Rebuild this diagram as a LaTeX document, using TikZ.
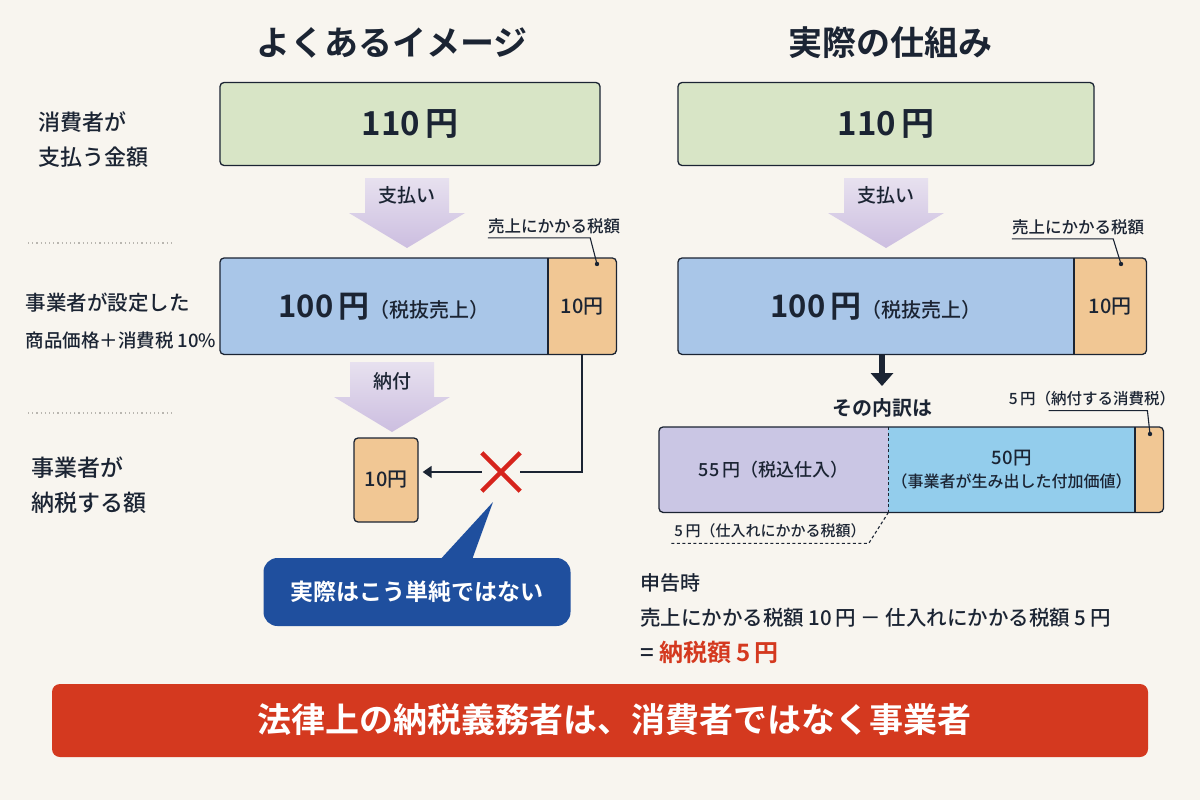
\documentclass[tikz,border=0pt]{standalone}
\usepackage{fontspec}
\setmainfont{Noto Sans CJK JP}[UprightFont=* Medium,BoldFont=* Bold]
\usetikzlibrary{positioning,arrows.meta}

\definecolor{bg}{HTML}{F8F5EF}
\definecolor{ink}{HTML}{1B2433}
\definecolor{paygreen}{HTML}{D8E5C6}
\definecolor{netblue}{HTML}{A9C6E8}
\definecolor{taxorange}{HTML}{F1C794}
\definecolor{inpurple}{HTML}{CAC6E4}
\definecolor{addsky}{HTML}{93CDEC}
\definecolor{arrtop}{HTML}{E7E1EF}
\definecolor{arrbot}{HTML}{CCBEE0}
\definecolor{navy}{HTML}{1F4F9E}
\definecolor{alertred}{HTML}{D4391F}
\definecolor{crossred}{HTML}{D6241C}
\definecolor{sepgray}{HTML}{B9B6B0}

\newcommand{\fsz}[1]{\fontsize{#1}{#1}\selectfont}
% block arrow: centre x, top, end of shaft, tip
\newcommand{\blockarrow}[4]{%
  \shade[top color=arrtop,bottom color=arrbot]
    (#1-42,#2) -- (#1+42,#2) -- (#1+42,#3) -- (#1+58,#3) -- (#1,#4)
    -- (#1-58,#3) -- (#1-42,#3) -- cycle;}

\begin{document}
\begin{tikzpicture}[x=1pt,y=-1pt,color=ink,
  title/.style={font=\fsz{34}\bfseries},
  side/.style={anchor=west,align=left},
  box/.style={draw=ink,line width=1.3pt,rounded corners=4pt},
  part/.style={inner sep=0pt,anchor=north west},
  note/.style={inner xsep=0pt,inner ysep=4pt},
  lead/.style={line width=1.1pt},
  dots/.style={draw=sepgray,line width=1.3pt,dash pattern=on 1.2pt off 3pt},
  dashline/.style={line width=1.1pt,dash pattern=on 3pt off 2.5pt}]

  \path[use as bounding box,fill=bg] (0,0) rectangle (1200,800);

  % Titles
  \node[title] (titleL) at (392,43) {よくあるイメージ};
  \node[title] (titleR) at (890,43) {実際の仕組み};

  % Row labels
  \node[side,font=\fsz{22}] (rowPay) at (35,140) {消費者が\\[13pt]支払う金額};
  \node[side] (rowSet) at (22,321) {\fsz{20.5}事業者が設定した\\[18pt]\fsz{18.5}商品価格＋消費税 10\%};
  \node[side,font=\fsz{23}] (rowDue) at (28,485) {事業者が\\[12pt]納税する額};
  \draw[dots] (28,243) -- (171,243);
  \draw[dots] (28,413) -- (174,413);

  % ---- left: common image ----
  \node[box,fill=paygreen,minimum width=380pt,minimum height=83pt] (payL) at (410,124)
    {\fsz{33}\bfseries 110\,円};
  \blockarrow{407}{178}{213}{248}
  \node[font=\fsz{19}] (payLtxt) at (407,195) {支払い};

  \begin{scope}
    \clip[rounded corners=4pt] (220,258) rectangle (616,354);
    \node[part,fill=netblue,minimum width=328pt,minimum height=96pt] (netL) at (220,258)
      {\fsz{31}\bfseries 100\,円{\mdseries\fsz{20}（税抜売上）}};
    \node[part,fill=taxorange,minimum width=68pt,minimum height=96pt] (taxL) at (548,258)
      {\fsz{20}10円};
  \end{scope}
  \draw[line width=1.3pt] (taxL.north west) -- (taxL.south west);
  \draw[box] (netL.north west) rectangle (taxL.south east);

  \node[note,font=\fsz{16.5}] (saleL) at (554,226) {売上にかかる税額};
  \coordinate (saleLdot) at (597,264);
  \draw[lead] (saleL.south west) -- ([xshift=-30pt]saleL.south east) -- (saleLdot);
  \fill (saleLdot) circle (2.2pt);

  \blockarrow{392}{362}{397}{432}
  \node[font=\fsz{19}] (dueLtxt) at (392,381) {納付};

  \node[box,fill=taxorange,minimum width=64pt,minimum height=84pt] (dueL) at (386,480)
    {\fsz{20}10円};

  \node[minimum size=38pt,inner sep=0pt] (cross) at (501,472) {};
  \draw[crossred,line width=4.5pt] (cross.north west) -- (cross.south east)
    (cross.north east) -- (cross.south west);
  \draw[line width=1.6pt] (taxL.south) |- (cross.east);
  \draw[line width=1.6pt,-{Triangle[length=9pt,width=12pt]},shorten >=4pt]
    (cross.west) -- (cross.west -| dueL.east);

  \node[fill=navy,rounded corners=14pt,minimum width=307pt,minimum height=68pt,
    text=white,font=\fsz{23}\bfseries] (bubble) at (417,592) {実際はこう単純ではない};
  \coordinate (tailtip) at (493,502);
  \fill[navy] ([xshift=23pt,yshift=-2pt]bubble.north) -- (tailtip)
    -- ([xshift=55pt,yshift=-2pt]bubble.north) -- cycle;

  % ---- right: actual mechanism ----
  \node[box,fill=paygreen,minimum width=416pt,minimum height=83pt] (payR) at (886,124)
    {\fsz{33}\bfseries 110\,円};
  \blockarrow{886}{178}{213}{248}
  \node[font=\fsz{19}] (payRtxt) at (886,195) {支払い};

  \begin{scope}
    \clip[rounded corners=4pt] (678,258) rectangle (1146,354);
    \node[part,fill=netblue,minimum width=396pt,minimum height=96pt] (netR) at (678,258)
      {\fsz{31}\bfseries 100\,円{\mdseries\fsz{20}（税抜売上）}};
    \node[part,fill=taxorange,minimum width=72pt,minimum height=96pt] (taxR) at (1074,258)
      {\fsz{20}10円};
  \end{scope}
  \draw[line width=1.3pt] (taxR.north west) -- (taxR.south west);
  \draw[box] (netR.north west) rectangle (taxR.south east);

  \node[note,font=\fsz{16.5}] (saleR) at (1078,227) {売上にかかる税額};
  \coordinate (saleRdot) at (1121,264);
  \draw[lead] (saleR.south west) -- ([xshift=-31pt]saleR.south east) -- (saleRdot);
  \fill (saleRdot) circle (2.2pt);

  \node[font=\fsz{20}\bfseries] (breakdown) at (882,408) {その内訳は};
  \draw[line width=6pt,-{Triangle[length=13pt,width=22pt]},shorten >=9pt]
    (breakdown.north |- netR.south) -- (breakdown.north);

  \begin{scope}
    \clip[rounded corners=4pt] (659,427) rectangle (1163,512);
    \node[part,fill=inpurple,minimum width=229pt,minimum height=85pt] (inR) at (659,427)
      {\fsz{18}55\,円（税込仕入）};
    \node[part,fill=addsky,minimum width=247pt,minimum height=85pt,align=center] (addR) at (888,427)
      {\fsz{18.5}50円\\[7pt]\fsz{16}（事業者が生み出した付加価値）};
    \node[part,fill=taxorange,minimum width=28pt,minimum height=85pt] (vatR) at (1135,427) {};
  \end{scope}
  \draw[dashline] (inR.north east) -- (inR.south east);
  \draw[line width=1.3pt] (vatR.north west) -- (vatR.south west);
  \draw[box] (inR.north west) rectangle (vatR.south east);

  \node[note,font=\fsz{15.5}] (vatRtxt) at (1092,399) {5\,円（納付する消費税）};
  \coordinate (vatRdot) at (1150,434);
  \draw[lead] ([xshift=40pt]vatRtxt.south west) -- ([xshift=-28pt]vatRtxt.south east) -- (vatRdot);
  \fill (vatRdot) circle (2.2pt);

  \node[inner xsep=3pt,inner ysep=5pt,font=\fsz{15}] (inTaxR) at (770,531) {5\,円（仕入れにかかる税額）};
  \draw[dashline] (inR.south east) -- (inTaxR.south east) -- (inTaxR.south west);

  \node[anchor=west,inner sep=0pt,font=\fsz{20}] (filing) at (640,583) {申告時};
  \node[anchor=west,inner sep=0pt,font=\fsz{20.5}] (calc) at (640,618)
    {売上にかかる税額 10\,円 － 仕入れにかかる税額 5\,円};
  \node[anchor=west,inner sep=0pt,font=\fsz{24}] (result) at (640,652)
    {= {\color{alertred}\bfseries 納税額 5\,円}};

  % Bottom banner
  \node[fill=alertred,rounded corners=8pt,minimum width=1096pt,minimum height=73pt] (banner) at (600,720.5) {};
  \node[text=white,font=\fsz{34}\bfseries] (bannerTxt) at (614,720) {法律上の納税義務者は、消費者ではなく事業者};

\end{tikzpicture}
\end{document}
